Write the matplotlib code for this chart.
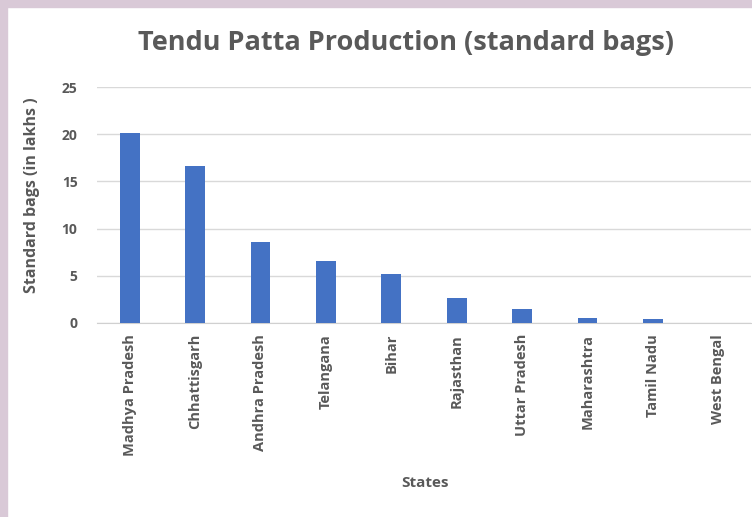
import matplotlib
matplotlib.use("Agg")
import matplotlib.pyplot as plt
from matplotlib.patches import Rectangle

states = ["Madhya Pradesh", "Chhattisgarh", "Andhra Pradesh", "Telangana", "Bihar",
          "Rajasthan", "Uttar Pradesh", "Maharashtra", "Tamil Nadu", "West Bengal"]
values = [20.1, 16.6, 8.6, 6.6, 5.2, 2.65, 1.5, 0.5, 0.4, 0.0]
yticks = [0, 5, 10, 15, 20, 25]

title = "Tendu Patta Production (standard bags)"
xlabel = "States"
ylabel = "Standard bags (in lakhs )"

plt.rcParams['font.family'] = ['Open Sans', 'DejaVu Sans']
grey = "#595959"

fig = plt.figure(figsize=(7.52, 5.17), dpi=100)
fig.patch.set_facecolor("white")
# lavender frame strips
fig.patches.append(Rectangle((0, 0), 7/752, 1, transform=fig.transFigure, color="#d9c9d7", zorder=0))
fig.patches.append(Rectangle((0, 1 - 7/517), 1, 7/517, transform=fig.transFigure, color="#d9c9d7", zorder=0))

ax = fig.add_axes([97/752, 194/517, 654/752, 236/517])
x = range(len(states))
ax.bar(x, values, width=0.3, color="#4472C4", zorder=3)
ax.set_xlim(-0.5, len(states) - 0.5)
ax.set_ylim(0, 25)
ax.set_yticks(yticks)
ax.set_xticks(list(x))
ax.set_xticklabels(states, rotation=90, fontsize=10.5, color=grey, fontweight='bold')
ax.tick_params(axis='y', labelsize=10, labelcolor=grey, length=0, pad=14)
ax.tick_params(axis='x', length=0, pad=8)
for lbl in ax.get_yticklabels():
    lbl.set_fontweight('bold')
ax.grid(axis='y', color="#d9d9d9", linewidth=1, zorder=0)
for s in ["top", "right", "left"]:
    ax.spines[s].set_visible(False)
ax.spines["bottom"].set_color("#d0d0d0")
ax.set_facecolor("white")

fig.text(406/752, 1 - 43/517, title, ha="center", va="center", fontsize=19.5,
         fontweight="bold", color=grey)
fig.text(32/752, 1 - 195/517, ylabel, ha="center", va="center", rotation=90,
         fontsize=11.5, fontweight="bold", color=grey)
fig.text(425/752, 1 - 483/517, xlabel, ha="center", va="center",
         fontsize=11, fontweight="bold", color=grey)

fig.savefig("out.png", dpi=100)
